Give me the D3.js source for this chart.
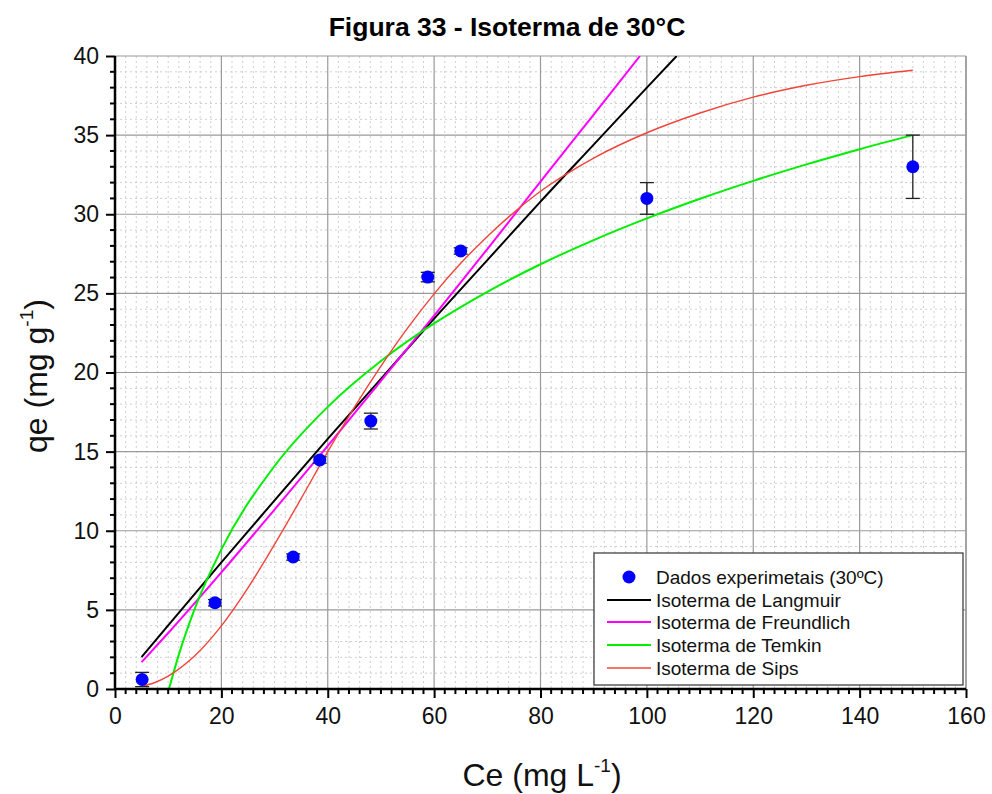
<!DOCTYPE html>
<html><head><meta charset="utf-8">
<script src="https://cdn.jsdelivr.net/npm/d3@7"></script>
<style>body{margin:0;background:#fff;} svg{display:block;font-family:"Liberation Sans",Arial,sans-serif;}</style>
</head><body>
<svg id="c" width="992" height="794"></svg>
<script>
// Experimental data
const ceData = [5.1, 18.8, 33.5, 38.5, 48.1, 58.8, 65.0, 100, 150];
const qeData = [0.6, 5.45, 8.34, 14.47, 16.93, 26.03, 27.68, 31.0, 33.0];
const qeErr  = [0.45, 0.2, 0.2, 0.2, 0.5, 0.3, 0.2, 1.0, 2.0];

// Model curves
const langX = [5, 10, 20, 30, 40, 50, 60, 70, 80, 90, 100, 105.6];
const langY = [2.02, 4.02, 8.0, 11.92, 15.8, 19.6, 23.4, 27.1, 30.8, 34.4, 38.0, 40.0];
const freuX = [5, 10, 20, 30, 40, 50, 60, 70, 80, 90, 98.7];
const freuY = [1.7, 3.54, 7.37, 11.34, 15.37, 19.47, 23.6, 27.8, 32.06, 36.3, 40.0];
const temkX = [10.15, 12, 15, 20, 30, 40, 50, 60, 70, 80, 90, 100, 110, 120, 130, 140, 150];
const temkY = [0, 2.17, 5.08, 8.82, 14.09, 17.83, 20.73, 23.1, 25.1, 26.84, 28.37, 29.74, 30.98, 32.11, 33.15, 34.11, 35.0];
const sipsX = [5, 7.5, 10, 15, 20, 25, 30, 35, 40, 45, 50, 55, 60, 65, 70, 80, 90, 100, 110, 120, 130, 140, 150];
const sipsY = [0.16, 0.41, 0.82, 2.1, 3.99, 6.39, 9.14, 12.04, 15.0, 17.8, 20.4, 22.8, 24.97, 26.9, 28.6, 31.45, 33.55, 35.15, 36.4, 37.4, 38.15, 38.7, 39.1];

const xTicks = [0, 20, 40, 60, 80, 100, 120, 140, 160];
const yTicks = [0, 5, 10, 15, 20, 25, 30, 35, 40];

const legendLabels = ["Dados experimetais (30ºC)", "Isoterma de Langmuir", "Isoterma de Freundlich", "Isoterma de Temkin", "Isoterma de Sips"];

const L = 115, R = 966, T = 56, B = 689;
const svg = d3.select("#c");
const x = d3.scaleLinear().domain([0, 160]).range([L, R]);
const y = d3.scaleLinear().domain([0, 40]).range([B, T]);

const minorX = d3.range(0, 161, 2).filter(v => v % 20 !== 0);
const minorY = d3.range(0, 41, 1).filter(v => v % 5 !== 0);
const g = svg.append("g");
g.selectAll(".mx").data(minorX).enter().append("line")
  .attr("x1", d => x(d)).attr("x2", d => x(d)).attr("y1", T).attr("y2", B)
  .attr("stroke", "#cfcfcf").attr("stroke-width", 1).attr("stroke-dasharray", "2,3");
g.selectAll(".my").data(minorY).enter().append("line")
  .attr("y1", d => y(d)).attr("y2", d => y(d)).attr("x1", L).attr("x2", R)
  .attr("stroke", "#cfcfcf").attr("stroke-width", 1).attr("stroke-dasharray", "2,3");
g.selectAll(".Mx").data(xTicks.slice(1)).enter().append("line")
  .attr("x1", d => x(d)).attr("x2", d => x(d)).attr("y1", T).attr("y2", B)
  .attr("stroke", "#9a9a9a").attr("stroke-width", 1.2);
g.selectAll(".My").data(yTicks.slice(1)).enter().append("line")
  .attr("y1", d => y(d)).attr("y2", d => y(d)).attr("x1", L).attr("x2", R)
  .attr("stroke", "#9a9a9a").attr("stroke-width", 1.2);
g.append("line").attr("x1", R).attr("x2", R).attr("y1", T).attr("y2", B).attr("stroke", "#9a9a9a").attr("stroke-width", 1.5);

svg.append("clipPath").attr("id", "clip").append("rect").attr("x", L).attr("y", T).attr("width", R - L).attr("height", B - T);

const line = d3.line().x(d => x(d[0])).y(d => y(d[1])).curve(d3.curveMonotoneX);
const curves = [
  {xs: langX, ys: langY, color: "#000000", w: 2},
  {xs: freuX, ys: freuY, color: "#ff00ff", w: 2},
  {xs: temkX, ys: temkY, color: "#00ee00", w: 2},
  {xs: sipsX, ys: sipsY, color: "#f0443a", w: 1.4}
];
const cg = svg.append("g").attr("clip-path", "url(#clip)");
curves.forEach(c => {
  cg.append("path").datum(c.xs.map((v, i) => [v, c.ys[i]]))
    .attr("d", line).attr("fill", "none").attr("stroke", c.color).attr("stroke-width", c.w);
});

const pts = ceData.map((v, i) => ({x: v, y: qeData[i], e: qeErr[i]}));
const eg = svg.append("g");
pts.forEach(p => {
  eg.append("line").attr("x1", x(p.x)).attr("x2", x(p.x)).attr("y1", y(p.y - p.e)).attr("y2", y(p.y + p.e)).attr("stroke", "#222").attr("stroke-width", 1.3);
  [p.y - p.e, p.y + p.e].forEach(v => {
    eg.append("line").attr("x1", x(p.x) - 7).attr("x2", x(p.x) + 7).attr("y1", y(v)).attr("y2", y(v)).attr("stroke", "#222").attr("stroke-width", 1.3);
  });
});
eg.selectAll("circle").data(pts).enter().append("circle")
  .attr("cx", d => x(d.x)).attr("cy", d => y(d.y)).attr("r", 6.5).attr("fill", "#0000ff");

const xAxis = d3.axisBottom(x).tickValues(xTicks).tickSize(9).tickPadding(10);
const yAxis = d3.axisLeft(y).tickValues(yTicks).tickSize(9).tickPadding(7);
const xa = svg.append("g").attr("transform", `translate(0,${B})`).call(xAxis);
const ya = svg.append("g").attr("transform", `translate(${L},0)`).call(yAxis);
xa.selectAll(".mt").data(minorX).enter().append("line")
  .attr("x1", d => x(d)).attr("x2", d => x(d)).attr("y1", 0).attr("y2", 5).attr("stroke", "#000").attr("stroke-width", 2);
ya.selectAll(".mt").data(minorY).enter().append("line")
  .attr("y1", d => y(d)).attr("y2", d => y(d)).attr("x1", 0).attr("x2", -5).attr("stroke", "#000").attr("stroke-width", 2);
[xa, ya].forEach(a => {
  a.select(".domain").attr("stroke", "#000").attr("stroke-width", 2.5);
  a.selectAll(".tick line").attr("stroke", "#000").attr("stroke-width", 2);
  a.selectAll(".tick text").attr("font-size", 23).attr("fill", "#111").attr("font-family", "Liberation Sans, Arial, sans-serif");
});
xa.select(".domain").attr("d", `M${L},0H${R}`);
ya.select(".domain").attr("d", `M0,${B}V${T}`);

svg.append("text").attr("x", 507).attr("y", 36).attr("text-anchor", "middle")
  .attr("font-size", 26.5).attr("font-weight", "bold").attr("fill", "#000").text("Figura 33 - Isoterma de 30°C");
const xt = svg.append("text").attr("x", 542).attr("y", 786).attr("text-anchor", "middle").attr("font-size", 32).attr("fill", "#111");
xt.append("tspan").text("Ce (mg L");
xt.append("tspan").attr("font-size", 19).attr("dy", -14).text("-1");
xt.append("tspan").attr("dy", 14).text(")");
const yt = svg.append("text").attr("transform", "translate(47,376) rotate(-90)").attr("text-anchor", "middle").attr("font-size", 32).attr("fill", "#111");
yt.append("tspan").text("qe (mg g");
yt.append("tspan").attr("font-size", 19).attr("dy", -14).text("-1");
yt.append("tspan").attr("dy", 14).text(")");

const lg = svg.append("g");
lg.append("rect").attr("x", 594).attr("y", 553).attr("width", 369).attr("height", 132)
  .attr("fill", "#fff").attr("stroke", "#333").attr("stroke-width", 1.2);
const rowY = [577, 600, 622, 645, 668];
const legColors = [null, "#000000", "#ff00ff", "#00ee00", "#f0443a"];
legendLabels.forEach((t, i) => {
  if (i === 0) {
    lg.append("circle").attr("cx", 629).attr("cy", rowY[i]).attr("r", 6.5).attr("fill", "#0000ff");
  } else {
    lg.append("line").attr("x1", 607).attr("x2", 651).attr("y1", rowY[i]).attr("y2", rowY[i])
      .attr("stroke", legColors[i]).attr("stroke-width", i === 4 ? 1.4 : 2);
  }
  lg.append("text").attr("x", 656).attr("y", rowY[i] + 7).attr("font-size", 19).attr("fill", "#111").text(t);
});
</script>
</body></html>
